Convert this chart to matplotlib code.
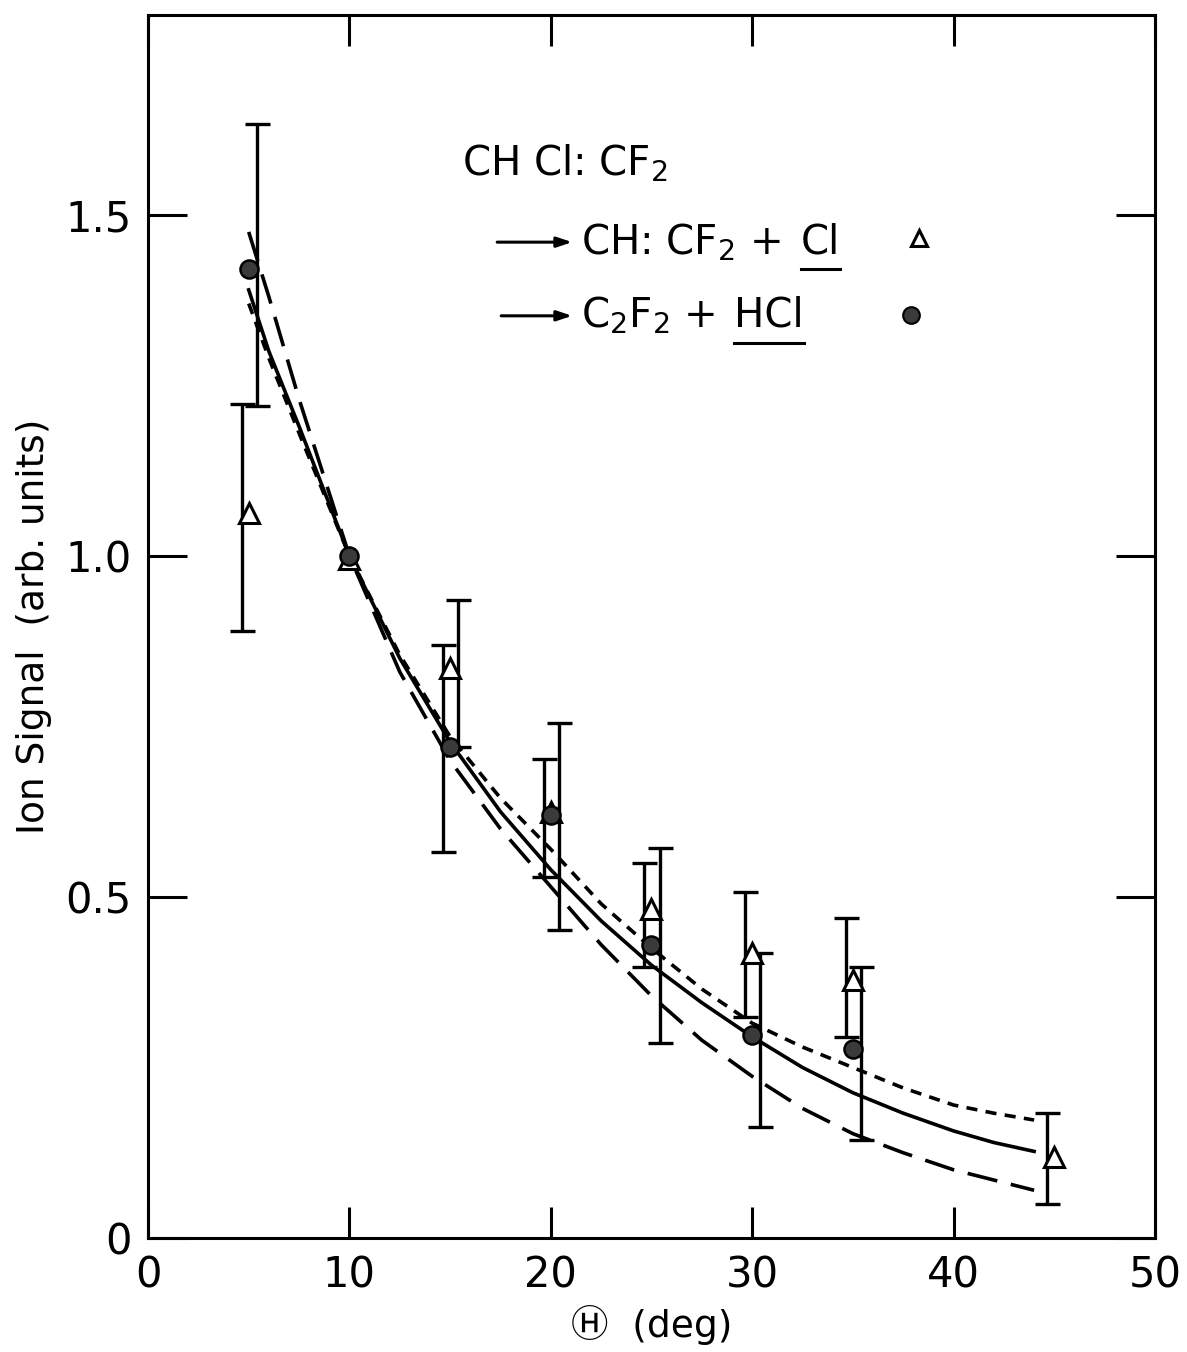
import numpy as np
import matplotlib
matplotlib.use("Agg")
import matplotlib.pyplot as plt


# Fitted curves
THETA_FIT = [5, 6, 7.5, 10, 12.5, 15, 17.5, 20, 22.5, 25, 27.5, 30, 32.5, 35, 37.5, 40, 42, 44]
FIT_SOLID = [1.39, 1.30, 1.19, 1.0, 0.85, 0.727, 0.625, 0.54, 0.465, 0.40, 0.345, 0.295,
             0.25, 0.213, 0.183, 0.157, 0.14, 0.127]
FIT_SHORT = [1.37, 1.29, 1.18, 1.0, 0.855, 0.735, 0.645, 0.57, 0.49, 0.425, 0.365, 0.315,
             0.28, 0.25, 0.22, 0.195, 0.183, 0.173]
FIT_LONG = [1.475, 1.38, 1.23, 1.0, 0.83, 0.70, 0.60, 0.515, 0.43, 0.355, 0.29, 0.237,
            0.19, 0.153, 0.125, 0.10, 0.085, 0.07]

# CH:CF2 + Cl channel (open triangles)
THETA_CL = [5, 10, 15, 20, 25, 30, 35, 45]
SIGNAL_CL = [1.063, 0.995, 0.835, 0.625, 0.482, 0.418, 0.378, 0.119]
CL_UPPER = [1.223, np.nan, 0.87, 0.702, 0.55, 0.507, 0.469, 0.183]
CL_LOWER = [0.89, np.nan, 0.566, 0.529, 0.397, 0.324, 0.295, 0.05]

# C2F2 + HCl channel (filled circles)
THETA_HCL = [5, 10, 15, 20, 25, 30, 35]
SIGNAL_HCL = [1.42, 1.0, 0.72, 0.62, 0.43, 0.298, 0.277]
HCL_UPPER = [1.633, np.nan, 0.935, 0.755, 0.572, 0.418, 0.397]
HCL_LOWER = [1.22, np.nan, 0.72, 0.452, 0.286, 0.163, 0.144]

X_TICKS = [0, 10, 20, 30, 40, 50]
Y_TICKS = [0, 0.5, 1.0, 1.5]
Y_TICK_LABELS = ["0", "0.5", "1.0", "1.5"]

# error bars in the original sit a little beside their markers
DX_CL = -0.35
DX_HCL = 0.4

plt.rcParams.update({
    "font.family": ["DejaVu Sans", "Noto Sans CJK JP"],
    "lines.scale_dashes": False,
    "axes.linewidth": 2.2,
})

fig = plt.figure(figsize=(11.87, 13.52), dpi=100)
ax = fig.add_axes([0.1247, 0.0843, 0.973 - 0.1247, 0.9889 - 0.0843])

lw = 2.6
ax.plot(THETA_FIT, FIT_SOLID, color="black", lw=lw, zorder=2)
ax.plot(THETA_FIT, FIT_SHORT, color="black", lw=lw, dashes=(8, 6), zorder=2)
ax.plot(THETA_FIT, FIT_LONG, color="black", lw=lw, dashes=(22, 10), zorder=2)


def draw_bars(theta, sig, hi, lo, dx):
    theta = np.asarray(theta, float)
    sig = np.asarray(sig, float)
    hi = np.asarray(hi, float)
    lo = np.asarray(lo, float)
    ok = ~np.isnan(hi)
    ax.errorbar(theta[ok] + dx, sig[ok], yerr=[sig[ok] - lo[ok], hi[ok] - sig[ok]],
                fmt="none", ecolor="black", elinewidth=2.4, capsize=9, capthick=2.4,
                zorder=3)


draw_bars(THETA_CL, SIGNAL_CL, CL_UPPER, CL_LOWER, DX_CL)
draw_bars(THETA_HCL, SIGNAL_HCL, HCL_UPPER, HCL_LOWER, DX_HCL)

ax.plot(THETA_CL, SIGNAL_CL, ls="none", marker="^", ms=14, mfc="white", mec="black",
        mew=2.2, zorder=4)
ax.plot(THETA_HCL, SIGNAL_HCL, ls="none", marker="o", ms=13, mfc="#3a3a3a", mec="black",
        mew=1.8, zorder=5)

ax.set_xlim(0, 50)
ax.set_ylim(0, 1.793)
ax.set_xticks(X_TICKS)
ax.set_xticklabels([str(v) for v in X_TICKS])
ax.set_yticks(Y_TICKS)
ax.set_yticklabels(Y_TICK_LABELS)
ax.tick_params(axis="both", which="major", direction="in", width=2.2, length=22,
               labelsize=30, top=True, right=True, pad=12)
ax.tick_params(axis="y", length=28)

ax.set_ylabel("Ion Signal  (arb. units)", fontsize=27)
ax.yaxis.set_label_coords(-0.095, 0.50)
ax.set_xlabel("\u24bd  (deg)", fontsize=27)
ax.xaxis.set_label_coords(0.50, -0.055)

# reaction key in the upper part of the panel
fs = 29
ax.text(15.6, 1.575, "CH Cl: CF$_2$", fontsize=fs, ha="left", va="center")

arrow_kw = dict(arrowstyle="-|>,head_length=0.9,head_width=0.3", color="black", lw=2.2)
ax.annotate("", xy=(21.2, 1.46), xytext=(17.2, 1.46), arrowprops=arrow_kw)
ax.annotate("", xy=(21.2, 1.352), xytext=(17.4, 1.352), arrowprops=arrow_kw)

ax.text(21.5, 1.46, "CH: CF$_2$ +", fontsize=fs, ha="left", va="center")
cl = ax.text(32.4, 1.46, "Cl", fontsize=fs, ha="left", va="center")
ax.text(21.5, 1.352, "C$_2$F$_2$ +", fontsize=fs, ha="left", va="center")
hcl = ax.text(29.1, 1.352, "HCl", fontsize=fs, ha="left", va="center")

ax.plot([38.3], [1.466], ls="none", marker="^", ms=11, mfc="white", mec="black", mew=2.2)
ax.plot([37.9], [1.353], ls="none", marker="o", ms=12, mfc="#3a3a3a", mec="black", mew=1.5)

fig.canvas.draw()
renderer = fig.canvas.get_renderer()
inv = ax.transData.inverted()
for t, y_line in ((cl, 1.42), (hcl, 1.312)):
    bb = t.get_window_extent(renderer)
    x0 = inv.transform((bb.x0, bb.y0))[0]
    x1 = inv.transform((bb.x1, bb.y0))[0]
    ax.plot([x0, x1], [y_line, y_line], color="black", lw=2.2)

fig.savefig("out.png", dpi=100)
